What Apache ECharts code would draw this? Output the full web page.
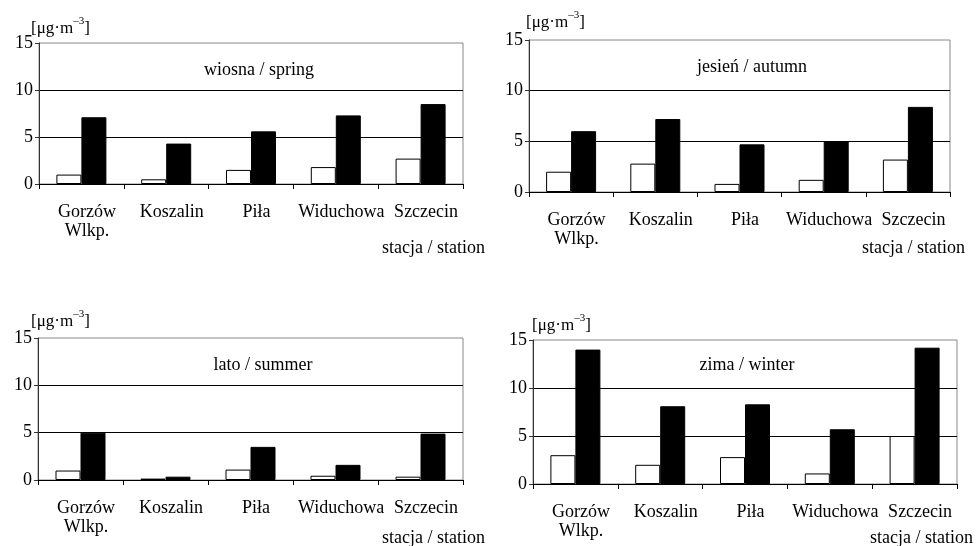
<!DOCTYPE html>
<html><head><meta charset="utf-8">
<script src="https://cdn.jsdelivr.net/npm/echarts@6/dist/echarts.min.js"></script>
<style>html,body{margin:0;padding:0;background:#fff}#c{width:978px;height:546px}</style>
</head><body><div id="c"></div>
<script>
// ---- data ----
const categories = ['Gorzów\nWlkp.', 'Koszalin', 'Piła', 'Widuchowa', 'Szczecin'];
const yTicks = [0, 5, 10, 15];
const seasons = ['wiosna / spring', 'jesień / autumn', 'lato / summer', 'zima / winter'];
const springWhite = [1.0, 0.5, 1.5, 1.8, 2.7];
const springBlack = [7.1, 4.3, 5.6, 7.3, 8.5];
const autumnWhite = [2.0, 2.8, 0.8, 1.2, 3.2];
const autumnBlack = [6.0, 7.2, 4.7, 5.0, 8.4];
const summerWhite = [1.0, 0.15, 1.1, 0.45, 0.35];
const summerBlack = [5.0, 0.35, 3.5, 1.6, 4.9];
const winterWhite = [3.0, 2.0, 2.8, 1.1, 5.0];
const winterBlack = [14.0, 8.1, 8.3, 5.7, 14.2];
const unitLabel = '{a|[μg·m}{s|–3}{a|]}';
const axisName = 'stacja / station';

// ---- layout ----
const FONT = 'Liberation Serif';
const grids = [
  {left: 39, top: 43, width: 424, height: 141},
  {left: 529, top: 40, width: 421, height: 152},
  {left: 38, top: 338, width: 425, height: 142},
  {left: 533, top: 340, width: 424, height: 144}
];
const seasonPos = [[259, 70], [752, 67], [263, 365], [747, 365]];
const unitPos = [[31, 16], [526, 10], [31, 309], [532, 313]];
const namePos = [[382, 248], [862, 248], [382, 538], [870, 538]];
const whiteData = [springWhite, autumnWhite, summerWhite, winterWhite];
const blackData = [springBlack, autumnBlack, summerBlack, winterBlack];

const chart = echarts.init(document.getElementById('c'), null, {renderer: 'canvas'});

const option = {
  animation: false,
  backgroundColor: '#fff',
  textStyle: {fontFamily: FONT, color: '#000'},
  grid: grids.map(g => Object.assign({show: true, borderColor: '#888', borderWidth: 1, backgroundColor: 'transparent'}, g)),
  xAxis: grids.map((g, i) => ({
    type: 'category', gridIndex: i, data: categories,
    axisLine: {lineStyle: {color: '#000', width: 1}},
    axisTick: {show: true, length: 5, lineStyle: {color: '#000'}},
    axisLabel: {interval: 0, fontFamily: FONT, fontSize: 18, lineHeight: 19, color: '#000', margin: 19, padding: [0, 0, 0, 11]}
  })),
  yAxis: grids.map((g, i) => ({
    type: 'value', gridIndex: i, min: yTicks[0], max: yTicks[yTicks.length - 1], interval: yTicks[1] - yTicks[0],
    axisLine: {show: true, lineStyle: {color: '#333', width: 1}},
    axisTick: {show: true, length: 4, lineStyle: {color: '#333'}},
    axisLabel: {fontFamily: FONT, fontSize: 18, color: '#000', margin: 6},
    splitLine: {show: true, showMinLine: false, showMaxLine: false, lineStyle: {color: '#000', width: 1}}
  })),
  title: unitPos.map(p => ({
    text: unitLabel, left: p[0], top: p[1], padding: 0,
    textStyle: {
      rich: {
        a: {fontFamily: FONT, fontSize: 17, color: '#000', fontWeight: 'normal'},
        s: {fontFamily: FONT, fontSize: 11, color: '#000', fontWeight: 'normal', padding: [0, 0, 14, 0]}
      }
    }
  })),
  graphic: [
    ...seasonPos.map((p, i) => ({
      type: 'text', x: p[0], y: p[1], silent: true,
      style: {text: seasons[i], fontFamily: FONT, fontSize: 18, fill: '#000', align: 'center', verticalAlign: 'middle'}
    })),
    ...namePos.map(p => ({
      type: 'text', x: p[0], y: p[1], silent: true,
      style: {text: axisName, fontFamily: FONT, fontSize: 18, fill: '#000', align: 'left', verticalAlign: 'middle'}
    }))
  ],
  series: []
};
for (let i = 0; i < 4; i++) {
  option.series.push({
    type: 'bar', name: 'white', xAxisIndex: i, yAxisIndex: i, data: whiteData[i],
    barWidth: 25, barGap: '0%',
    itemStyle: {color: '#fff', borderColor: '#000', borderWidth: 1}
  });
  option.series.push({
    type: 'bar', name: 'black', xAxisIndex: i, yAxisIndex: i, data: blackData[i],
    barWidth: 25, barGap: '0%',
    itemStyle: {color: '#000', borderColor: '#000', borderWidth: 1}
  });
}
chart.setOption(option);
</script></body></html>
